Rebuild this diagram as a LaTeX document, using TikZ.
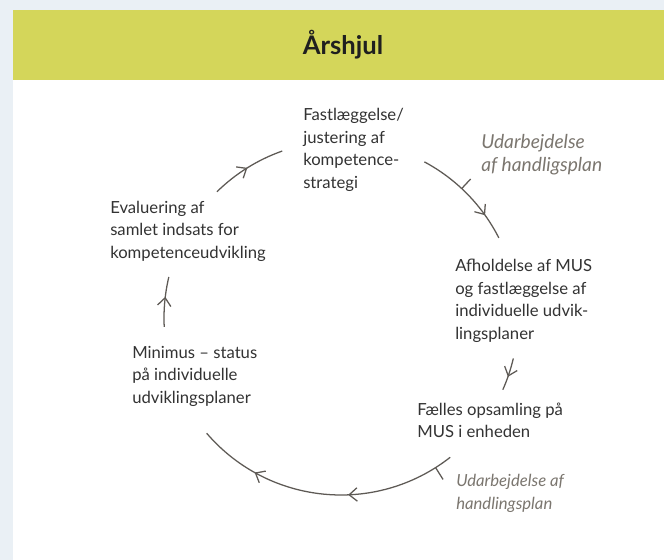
\documentclass[tikz,border=0pt]{standalone}
\usepackage{fontspec}
\setmainfont{Lato}
\usetikzlibrary{arrows.meta,decorations.markings,calc}
\definecolor{bgstrip}{HTML}{EAF0F5}
\definecolor{hdrgreen}{HTML}{D4D65A}
\definecolor{txt}{HTML}{333333}
\definecolor{itxt}{HTML}{7B766F}
\definecolor{linec}{HTML}{5E5A55}
\begin{document}
\begin{tikzpicture}[x=0.75pt,y=0.75pt,
  >={Straight Barb[length=6pt,width=10pt]},
  body/.style={anchor=base west, inner sep=0pt, text=txt, font=\fontsize{12.5}{16.875}\selectfont},
  ital/.style={anchor=base west, inner sep=0pt, text=itxt, font=\fontsize{12.5}{16.875}\selectfont\itshape},
  italbig/.style={anchor=base west, inner sep=0pt, text=itxt, font=\fontsize{14.4}{17.6}\selectfont\itshape},
  arcline/.style={draw=linec, line width=0.95pt},
  mkone/.style={postaction={decorate}, decoration={markings, mark=at position #1 with {\arrow{>}}}},
  mktwo/.style 2 args={postaction={decorate}, decoration={markings, mark=at position #1 with {\arrow{>}}, mark=at position #2 with {\arrow{>}}}}
]
\useasboundingbox (0,0) rectangle (664,-560);
\fill[bgstrip] (0,0) rectangle (664,-560);
\fill[hdrgreen] (13,-10) rectangle (664,-80);
\fill[white] (13,-80) rectangle (664,-560);
\node[anchor=base, inner sep=0pt, text=black!88, font=\fontsize{19.2}{22}\selectfont\bfseries] (title) at (343,-54.5) {Årshjul};

\coordinate (c) at (341,-318);
% arc endpoints
\coordinate (a1) at ($(c)+(134.5:177)$);
\coordinate (a2) at ($(c)+(61.9:177)$);
\coordinate (a3) at ($(c)+(-13.2:177)$);
\coordinate (a4) at ($(c)+(-51.9:177)$);
\coordinate (a5) at ($(c)+(182.9:177)$);
\draw[arcline, mkone=0.5] (a1) arc[start angle=134.5, end angle=109.4, radius=177];
\draw[arcline, mkone=0.754] (a2) arc[start angle=61.9, end angle=26.9, radius=177];
\draw[arcline, mkone=0.58] (a3) arc[start angle=-13.2, end angle=-23.9, radius=177];
\draw[arcline, mktwo={0.409}{0.769}] (a4) arc[start angle=-51.9, end angle=-139.4, radius=177];
\draw[arcline, mkone=0.6] (a5) arc[start angle=182.9, end angle=166.6, radius=177];
% ticks
\coordinate (t1a) at ($(c)+(47:177)$);
\coordinate (t1b) at ($(c)+(47:190)$);
\coordinate (t2a) at ($(c)+(-57.7:177)$);
\coordinate (t2b) at ($(c)+(-57.7:191)$);
\draw[arcline] (t1a) -- (t1b);
\draw[arcline] (t2a) -- (t2b);

\node[body] (n1) at (303,-120.5) {\begin{tabular}[t]{@{}l@{}}Fastlæggelse/\\justering af\\kompetence-\\strategi\end{tabular}};
\node[italbig] (u1) at (481,-148.5) {\begin{tabular}[t]{@{}l@{}}Udarbejdelse\\af handligsplan\end{tabular}};
\node[body] (n2) at (455,-271.5) {\begin{tabular}[t]{@{}l@{}}Afholdelse af MUS\\og fastlæggelse af\\individuelle udvik-\\lingsplaner\end{tabular}};
\node[body] (n3) at (417,-415) {\begin{tabular}[t]{@{}l@{}}Fælles opsamling på\\MUS i enheden\end{tabular}};
\node[ital] (u2) at (456,-486.5) {\begin{tabular}[t]{@{}l@{}}Udarbejdelse af\\handlingsplan\end{tabular}};
\node[body] (n4) at (132,-358) {\begin{tabular}[t]{@{}l@{}}Minimus – status\\på individuelle\\udviklingsplaner\end{tabular}};
\node[body] (n5) at (110,-213.3) {\begin{tabular}[t]{@{}l@{}}Evaluering af\\samlet indsats for\\kompetenceudvikling\end{tabular}};
\end{tikzpicture}
\end{document}
